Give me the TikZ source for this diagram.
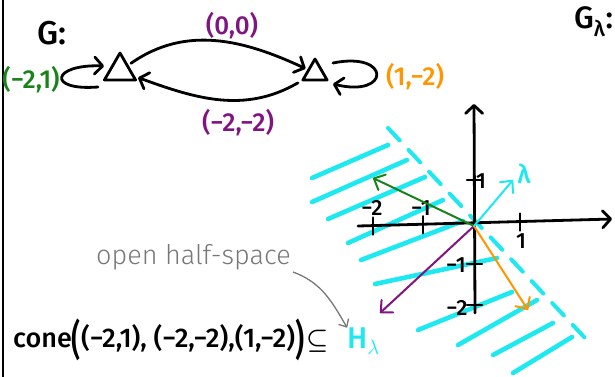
\documentclass[tikz,border=0pt]{standalone}
\usepackage{fontspec}
\usepackage{graphicx}
\setmainfont{Fira Sans Medium}
\newfontfamily\lightfont{Fira Sans Light}
\usetikzlibrary{arrows.meta,shapes.geometric,calc}
\definecolor{hcyan}{RGB}{30,232,240}
\definecolor{hpurple}{RGB}{128,20,128}
\definecolor{hgreen}{RGB}{25,130,25}
\definecolor{horange}{RGB}{255,150,0}
\definecolor{hgray}{RGB}{120,120,120}
\newcommand{\bigparL}{\raisebox{-0.28em}{\scalebox{1.05}[1.55]{(}}}
\newcommand{\bigparR}{\raisebox{-0.28em}{\scalebox{1.05}[1.55]{)}}}
\begin{document}
\begin{tikzpicture}[x=1pt,y=-1pt,
  ink/.style={line width=2.8pt,line cap=round,line join=round},
  barb/.style={-{Straight Barb[length=8pt,width=17pt,round]}},
  tri/.style={draw,line width=2.8pt,line join=round,regular polygon,regular polygon sides=3,inner sep=0pt},
  lbl/.style={font=\fontsize{26}{28}\selectfont,inner sep=0pt},
  biglbl/.style={font=\fontsize{33}{34}\selectfont,inner sep=0pt},
  ticklbl/.style={font=\fontsize{22}{24}\selectfont,inner sep=0pt},
  hatch/.style={hcyan,line width=4.6pt,line cap=round},
  vec/.style={line width=2pt,line cap=round,-{Straight Barb[length=9pt,width=17pt,round]}},
]
\useasboundingbox (0,0) rectangle (615,376);
\draw[line width=1.4pt] (3,-2) -- (3,378);

% graph G
\node[biglbl] (G) at (52,33) {G:};
\node[tri,minimum size=36pt] (t1) at (120,71) {};
\node[tri,minimum size=28pt] (t2) at (315,73) {};
\draw[ink,barb,shorten <=3pt,shorten >=2pt] (t1) to[out=35,in=155] (t2);
\draw[ink,barb,shorten <=3pt,shorten >=3pt] (t2) to[out=-150,in=-20] (t1);
\draw[ink,barb] ($(t1.center)+(-22,16)$) .. controls +(-52,4) and +(-52,-2) .. ($(t1.center)+(-16,-5)$);
\draw[ink,barb] ($(t2.center)+(18,-10)$) .. controls +(58,-12) and +(58,14) .. ($(t2.center)+(18,11)$);
\node[lbl,hpurple] (l00) at (232,26) {(0,0)};
\node[lbl,hpurple] (l22) at (238,123) {(−2,−2)};
\node[lbl,hgreen] (l21) at (31,80) {(−2,1)};
\node[lbl,horange] (l12) at (415,77) {(1,−2)};
\node[biglbl,anchor=west,font=\fontsize{31}{32}\selectfont] (Gl) at (574,22) {G\textsubscript{λ}:};

% hatching of the open half-space
\foreach \a/\b in {
  {(312,178)}/{(388,145)},
  {(312,202)}/{(407,160)},
  {(328,219)}/{(425,177)},
  {(348,243)}/{(443,200)},
  {(361,260)}/{(463,221)},
  {(375,284)}/{(497,258)},
  {(418,330)}/{(512,292)},
  {(458,345)}/{(537,300)},
  {(493,355)}/{(553,323)},
  {(513,373)}/{(572,337)}}
  \draw[hatch] \a -- \b;
\coordinate (bd1) at (388,128);
\coordinate (bd2) at (585,338);
\draw[hcyan,line width=4pt,line cap=round,dash pattern=on 17pt off 13pt] (bd1) -- (bd2);

% axes
\coordinate (O) at (474,226);
\coordinate (xl) at (358,226);
\coordinate (xr) at (612,219);
\coordinate (yb) at (475,313);
\coordinate (yt) at (474,104);
\draw[ink,barb] (xl) -- (xr);
\draw[ink,barb] (yb) -- (yt);
\foreach \x/\y in {373/225.6, 423/224.2, 520/221.5}
  \draw[line width=2.5pt,line cap=round] (\x,\y-8) -- (\x,\y+9);
\foreach \y in {180,264,305}
  \draw[line width=2.5pt,line cap=round] (467,\y) -- (482,\y);
\node[ticklbl] (xm2) at (372,208) {−2};
\node[ticklbl] (xm1) at (421,208) {−1};
\node[ticklbl] (xp1) at (521,241) {1};
\node[ticklbl] (yp1) at (481,181) {1};
\node[ticklbl] (ym1) at (456,265) {−1};
\node[ticklbl] (ym2) at (457,308) {−2};

% vectors
\coordinate (gtip) at (373,178);
\coordinate (ptip) at (380,313);
\coordinate (otip) at (528,310);
\coordinate (ltip) at (513,180);
\draw[vec,hgreen] (O) -- (gtip);
\draw[vec,hpurple] (O) -- (ptip);
\draw[vec,horange] (O) -- (otip);
\draw[vec,hcyan] (O) -- (ltip);
\node[lbl,hcyan] (lam) at (524,174) {λ};

% bottom formula
\node[lbl,hgray,anchor=west,font=\lightfont\fontsize{27}{28}\selectfont] (ohs) at (96,257) {open half-space};
\node[lbl,anchor=west,font=\fontsize{27}{30}\selectfont] (cone) at (13,340) {cone\bigparL(−2,1), (−2,−2),(1,−2)\bigparR\kern2pt{\boldmath$\subseteq$}};
\node[lbl,hcyan,anchor=west,font=\fontsize{30}{30}\selectfont] (hl) at (347,341) {H$_\lambda$};
\coordinate (gs) at (293,272);
\draw[hgray,line width=1.3pt,-{Straight Barb[length=6pt,width=11pt,round]}] (gs) to[out=-20,in=120] (hl.north west);
\end{tikzpicture}
\end{document}
